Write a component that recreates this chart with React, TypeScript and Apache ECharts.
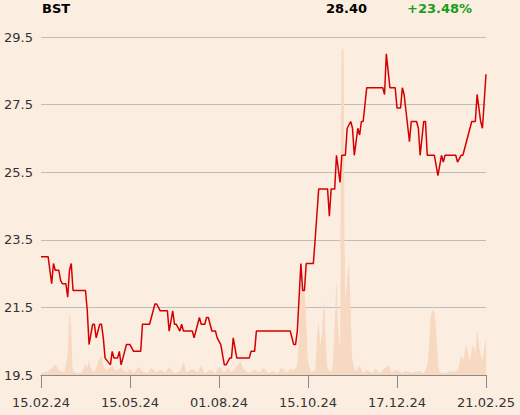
import React, { useEffect, useRef } from "react";
import * as echarts from "echarts";

const xLabels = ["15.02.24", "15.05.24", "01.08.24", "15.10.24", "17.12.24", "21.02.25"];
const yTicks = [19.5, 21.5, 23.5, 25.5, 27.5, 29.5];

// trading-day index (0..250) and closing price
const priceDays = [
  0, 4, 6, 7, 8, 10, 11, 12, 14, 15, 16, 17, 18, 25, 26, 27, 29, 30, 31, 33, 34, 35, 36, 39, 40, 41, 43, 44, 45, 47, 48, 50,
  52, 56, 57, 61, 63, 64, 65, 67, 71, 72, 74, 75, 76, 78, 79, 80, 85, 86, 88, 89, 90, 92, 93, 94, 96, 98, 99, 101,
  103, 104, 106, 107, 108, 110, 117, 118, 120, 121, 140, 142, 143, 144, 146, 147, 148, 149, 153, 154, 156, 161, 162, 163,
  165, 166, 168, 169, 171, 172, 174, 175, 176, 178, 179, 180, 181, 183, 192, 193, 194, 196, 199, 200, 202, 203, 204,
  207, 208, 211, 212, 213, 215, 216, 217, 221, 223, 225, 226, 227, 233, 234, 236, 237, 238, 240, 242, 244, 245, 247, 248, 250,
];
const prices = [
  23.0, 23.0, 22.2, 22.8, 22.6, 22.6, 22.3, 22.2, 22.2, 21.8, 22.6, 22.8, 22.0, 22.0, 21.4, 20.4, 21.0, 21.0, 20.6, 21.0, 21.0, 20.6, 20.0, 19.8, 20.2, 20.0, 20.0, 20.2, 19.8, 20.2, 20.4, 20.4,
  20.2, 20.2, 21.0, 21.0, 21.4, 21.6, 21.6, 21.4, 21.4, 20.8, 21.4, 21.0, 21.0, 20.8, 21.0, 20.8, 20.8, 20.6, 21.0, 21.2, 21.0, 21.0, 21.2, 21.2, 20.8, 20.8, 20.6, 20.4,
  19.8, 19.8, 20.0, 20.0, 20.6, 20.0, 20.0, 20.2, 20.2, 20.8, 20.8, 20.4, 20.4, 20.8, 22.8, 22.0, 22.0, 22.8, 22.8, 23.5, 25.0, 25.0, 24.2, 25.0,
  25.0, 26.0, 25.2, 26.0, 26.0, 26.8, 27.0, 26.8, 26.0, 26.8, 26.6, 27.0, 27.0, 28.0, 28.0, 27.8, 29.0, 28.0, 28.0, 27.4, 27.4, 28.0, 27.8,
  26.4, 27.0, 27.0, 26.8, 26.0, 27.0, 27.0, 26.0, 26.0, 25.4, 26.0, 25.8, 26.0, 26.0, 25.8, 26.0, 26.0, 26.2, 26.6, 27.0, 27.0, 27.8, 27.0, 26.8, 28.4,
];

// trading volume (relative units)
const volumeDays = [
  0, 3, 6, 8, 10, 13, 14, 15, 16, 17, 18, 20, 23, 25, 26, 27, 28, 30, 32, 34, 35, 37, 40, 42, 45, 48, 50, 52, 55, 57,
  60, 62, 65, 67, 70, 72, 75, 78, 80, 82, 85, 88, 90, 92, 95, 98, 100, 103, 105, 107, 110, 112, 114, 117, 120, 123, 125,
  128, 130, 133, 135, 138, 140, 142, 144, 145, 146, 147, 148, 149, 150, 152, 154, 155, 156, 157, 158, 159, 160, 161, 163,
  164, 165, 166, 167, 168, 169, 170, 171, 172, 173, 174, 175, 177, 179, 181, 183, 186, 188, 190, 192, 195, 197, 200, 203,
  205, 208, 210, 212, 215, 217, 218, 219, 220, 221, 222, 223, 224, 227, 230, 232, 234, 235, 236, 237, 238, 239, 240, 241,
  242, 243, 244, 245, 246, 247, 248, 249, 250,
];
const volumes = [
  0.5, 0.9, 2.1, 3.0, 1.5, 0.9, 3.0, 5.9, 18.6, 13.3, 1.5, 0.6, 0.9, 3.0, 2.1, 4.4, 2.1, 0.9, 3.8, 5.6, 2.7, 1.5, 2.7, 1.2, 2.1, 0.9, 1.8, 0.6, 2.4, 1.2,
  0.6, 2.1, 0.9, 1.5, 0.9, 2.4, 0.6, 1.2, 3.8, 0.9, 1.8, 0.9, 2.7, 0.6, 1.5, 0.6, 2.4, 0.9, 2.1, 0.9, 2.7, 3.8, 1.8, 0.6, 1.5, 0.9, 2.1,
  0.6, 1.2, 0.6, 2.1, 0.9, 1.8, 1.5, 3.0, 13.3, 24.6, 27.2, 25.1, 16.3, 4.4, 0.9, 1.5, 10.4, 15.7, 8.9, 13.3, 21.6, 10.4, 2.1, 0.9,
  4.4, 14.8, 27.2, 13.3, 8.0, 97.0, 96.0, 22.0, 28.1, 33.4, 19.2, 4.4, 1.2, 2.7, 0.6, 1.5, 0.6, 1.8, 0.6, 1.5, 2.7, 0.9, 1.5, 0.6,
  1.2, 0.6, 0.9, 1.2, 0.6, 3.0, 8.9, 16.9, 19.2, 18.6, 13.3, 4.4, 0.9, 0.6, 1.2, 0.9, 1.5, 3.0, 5.9, 4.4, 6.8, 8.9, 5.9, 4.4,
  7.4, 8.9, 5.9, 13.3, 8.9, 5.9, 4.4, 7.4, 10.9,
];

const BG = "#FCEDE1";

export default function App() {
  const ref = useRef<HTMLDivElement>(null);
  useEffect(() => {
    if (!ref.current) return;
    const chart = echarts.init(ref.current, null, { renderer: "svg" });
    const font = "DejaVu Sans";
    chart.setOption({
      animation: false,
      backgroundColor: BG,
      grid: { left: 41, right: 34, top: 37, bottom: 40 },
      graphic: [
        { type: "text", left: 42, top: 2, style: { text: "BST", font: `bold 13px '${font}'`, fill: "#000" } },
        { type: "text", left: 326, top: 2, style: { text: "28.40", font: `bold 13px '${font}'`, fill: "#000" } },
        { type: "text", left: 407, top: 2, style: { text: "+23.48%", font: `bold 13px '${font}'`, fill: "#1a9e1a" } },
      ],
      xAxis: {
        type: "value",
        min: 0,
        max: 250,
        interval: 50,
        axisLine: { show: true, lineStyle: { color: "#8a8a8a", width: 1 } },
        axisTick: { show: true, length: 13, lineStyle: { color: "#8a8a8a" } },
        splitLine: { show: false },
        axisLabel: {
          margin: 21,
          color: "#333",
          fontFamily: font,
          fontSize: 13,
          formatter: (v: number) => xLabels[Math.round(v / 50)] ?? "",
        },
      },
      yAxis: [
        {
          type: "value",
          min: yTicks[0],
          max: yTicks[yTicks.length - 1],
          interval: 2,
          axisLine: { show: false },
          axisTick: { show: false },
          splitLine: { show: true, lineStyle: { color: "#bdbdbd", width: 1 } },
          axisLabel: {
            margin: 8,
            color: "#333",
            fontFamily: font,
            fontSize: 13,
            formatter: (v: number) => v.toFixed(1),
          },
        },
        { type: "value", min: 0, max: 100, show: false, splitLine: { show: false } },
      ],
      series: [
        {
          type: "line",
          yAxisIndex: 1,
          data: volumeDays.map((d, i) => [d, volumes[i]]),
          showSymbol: false,
          smooth: 0.2,
          lineStyle: { width: 0 },
          areaStyle: { color: "#F7D8C1", opacity: 1 },
          z: 1,
          silent: true,
        },
        {
          type: "line",
          yAxisIndex: 0,
          data: priceDays.map((d, i) => [d, prices[i]]),
          showSymbol: false,
          lineStyle: { color: "#d40000", width: 1.5 },
          z: 3,
          silent: true,
        },
      ],
    });
    return () => chart.dispose();
  }, []);
  return (
    <div
      ref={ref}
      style={{ position: "fixed", left: 0, top: 0, width: 520, height: 415, background: BG }}
    />
  );
}
